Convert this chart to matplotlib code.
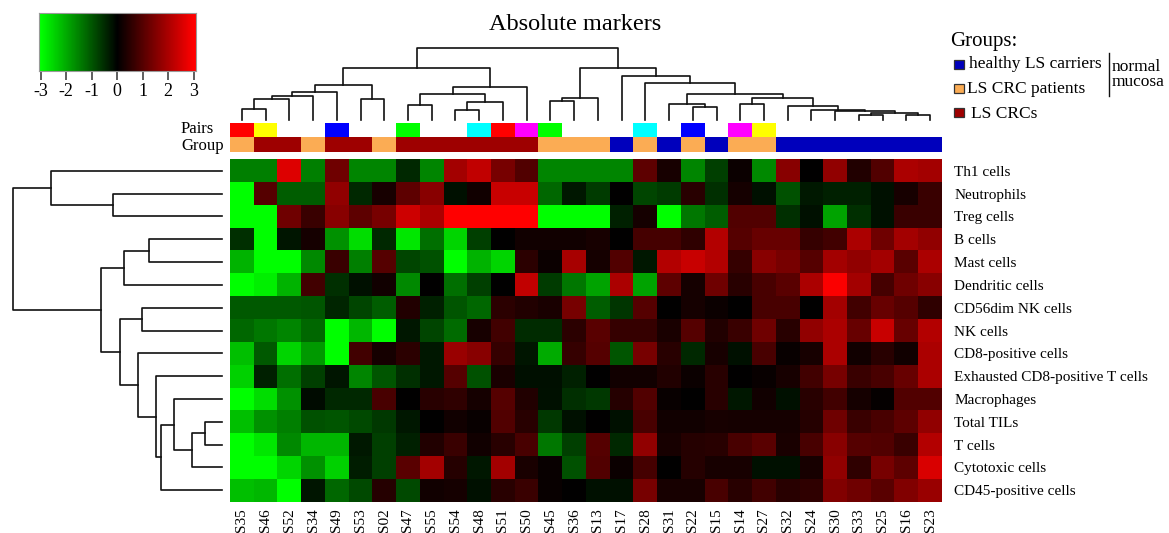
import numpy as np
import matplotlib
matplotlib.use("Agg")
import matplotlib.pyplot as plt
from matplotlib.colors import LinearSegmentedColormap, to_rgb
from matplotlib.patches import Rectangle

plt.rcParams['font.family'] = ['Liberation Serif', 'DejaVu Serif']

# ---- samples (column order) and annotations ----
samples = ["S35", "S46", "S52", "S34", "S49", "S53", "S02", "S47", "S55", "S54",
           "S48", "S51", "S50", "S45", "S36", "S13", "S17", "S28", "S31", "S22",
           "S15", "S14", "S27", "S32", "S24", "S30", "S33", "S25", "S16", "S23"]

group = ["pat", "crc", "crc", "pat", "crc", "crc", "pat", "crc", "crc", "crc",
         "crc", "crc", "crc", "pat", "pat", "pat", "hc", "pat", "hc", "pat",
         "hc", "pat", "pat", "hc", "hc", "hc", "hc", "hc", "hc", "hc"]

pairs = ["red", "yellow", None, None, "blue", None, None, "lime", None, None,
         "cyan", "red", "magenta", "lime", None, None, None, "cyan", None, "blue",
         None, "magenta", "yellow", None, None, None, None, None, None, None]

group_labels = {"hc": "healthy LS carriers", "pat": "LS CRC patients", "crc": "LS CRCs"}
group_colors = {"hc": "#0000BC", "pat": "#FBAC54", "crc": "#9E0000"}

# ---- cell types (row order) and scaled scores ----
cell_types = ["Th1 cells", "Neutrophils", "Treg cells", "B cells", "Mast cells",
              "Dendritic cells", "CD56dim NK cells", "NK cells", "CD8-positive cells",
              "Exhausted CD8-positive T cells", "Macrophages", "Total TILs",
              "T cells", "Cytotoxic cells", "CD45-positive cells"]

th1 = [-1.5, -1.5, 2.6, -1.5, 1.3, -1.55, -1.55, -0.47, -1.55, 1.9,
       2.25, 1.4, 0.94, -1.55, -1.55, -1.55, -1.55, 1.1, 0.28, -1.55,
       -0.75, 0.12, -1.6, 1.6, 0.0, 1.7, 0.38, 0.94, 2.0, 1.9]
neutrophils = [-3.0, 1.0, -1.1, -1.1, 1.7, -0.47, 0.28, 1.1, 1.6, -0.19,
               0.19, 2.35, 2.35, -1.2, -0.28, -0.68, 0.0, -0.8, -0.68, 0.47,
               -0.56, 0.25, -0.19, -0.94, -0.3, -0.38, -0.38, -0.19, 0.28, 0.66]
treg = [-3.0, -3.0, 1.3, 0.66, 1.6, 1.1, 1.4, 2.4, 2.0, 3.0,
        3.0, 3.0, 3.0, -3.0, -3.0, -3.0, -0.38, 0.25, -3.0, -1.4,
        -1.1, 0.94, 0.94, -0.56, -0.19, -1.9, -0.56, -0.2, 0.66, 0.66]
b_cells = [-0.56, -3.0, -0.25, 0.25, -1.7, -2.6, -0.47, -2.7, -1.3, -2.5,
           -0.75, 0.0, 0.2, 0.2, 0.2, 0.28, 0.0, 0.8, 0.8, 0.56,
           2.1, 1.0, 1.2, 1.2, 0.62, 0.75, 2.0, 1.3, 1.9, 1.7]
mast = [-2.1, -3.0, -3.0, -1.6, 0.66, -1.5, 1.0, -0.8, -0.94, -3.0,
        -2.1, -2.5, 0.5, 0.14, 1.95, 0.25, 0.94, -0.28, 2.1, 2.35,
        2.1, 0.62, 1.6, 1.4, 1.0, 1.9, 1.7, 1.9, 1.05, 2.0]
dendritic = [-3.0, -2.8, -2.1, 0.75, -0.56, -0.19, 0.19, -1.6, 0.0, -1.3,
             -0.75, 0.0, 2.25, -0.68, -1.4, -1.9, 2.0, -1.9, 1.1, 0.25,
             1.3, 0.47, 0.85, 1.05, 2.0, 2.95, 1.9, 0.8, 1.3, 1.6]
cd56dim_nk = [-1.05, -1.05, -1.05, -1.0, -0.44, -0.8, -1.1, 0.38, -0.38, -1.0,
              -1.2, 0.5, 0.38, 0.3, 1.4, -1.1, -0.62, 1.0, 0.0, 0.25,
              0.12, 0.0, 0.85, 0.85, 0.0, 1.9, 0.75, 1.2, 1.0, 0.56]
nk = [-1.2, -1.4, -1.55, -1.2, -3.0, -2.15, -3.0, -0.28, -0.8, -1.25,
      0.28, 0.75, -0.5, -0.5, 0.5, 1.05, 0.62, 0.62, 0.3, 1.0,
      0.38, 0.66, 1.3, 0.47, 1.7, 2.0, 1.2, 2.35, 1.2, 2.1]
cd8 = [-2.25, -1.05, -2.5, -1.8, -3.0, 0.75, 0.25, 0.5, -0.28, 1.8,
       1.6, 0.62, -0.25, -2.0, 0.62, 1.0, -1.0, 1.4, 0.47, -0.47,
       0.28, -0.2, 0.85, 0.1, 0.28, 2.0, 0.2, 0.47, 0.19, 2.0]
exhausted_cd8 = [-2.45, -0.38, -1.3, -0.75, -0.25, -1.55, -1.0, -0.56, -0.28, 1.0,
                 -0.94, 0.3, -0.18, -0.18, -0.38, 0.0, 0.19, 0.19, 0.38, 0.12,
                 0.47, 0.0, 0.1, 0.28, 0.75, 1.4, 0.66, 0.85, 1.2, 2.0]
macrophages = [-3.0, -2.6, -1.7, -0.12, -0.47, -0.47, 0.85, 0.0, 0.47, 0.56,
               0.25, 1.0, 0.38, -0.19, -0.56, -0.66, 0.44, 0.94, 0.1, 0.0,
               0.47, -0.28, 0.19, -0.19, 0.47, 0.75, 0.25, 0.07, 0.94, 0.94]
total_tils = [-2.25, -1.7, -1.5, -0.94, -1.0, -0.85, -0.66, -0.28, 0.0, 0.19,
              0.1, 0.94, 0.47, -0.66, -0.19, 0.0, -0.2, 0.85, 0.2, 0.2,
              0.28, 0.25, 0.25, 0.25, 0.44, 1.3, 0.66, 0.85, 1.1, 1.7]
t_cells = [-3.0, -2.7, -1.6, -2.15, -2.15, -0.3, -0.75, -0.38, 0.38, 0.66,
           0.2, 0.47, 0.85, -1.4, -0.75, 1.0, -0.47, 1.7, 0.28, 0.44,
           0.47, 0.85, 1.05, 0.3, 0.85, 1.6, 1.0, 0.94, 0.66, 2.1]
cytotoxic = [-3.0, -3.0, -2.5, -1.7, -2.45, -0.33, -0.75, 1.05, 1.9, 0.44,
             -0.28, 1.9, 0.3, 0.1, -0.94, 0.94, 0.12, 0.8, 0.0, 0.44,
             0.28, 0.28, -0.19, -0.19, 0.28, 1.7, 0.56, 1.4, 1.1, 2.55]
cd45 = [-2.25, -2.15, -3.0, -0.25, -1.2, -0.85, 0.44, -0.85, 0.19, 0.25,
        -0.2, 0.47, 0.66, 0.1, 0.0, -0.19, -0.19, 1.4, 0.28, 0.28,
        0.85, 0.47, 0.75, 0.47, 0.56, 1.5, 1.3, 1.05, 1.5, 1.8]

# ---- clustering trees: (left, right, merge height); leaves are column/row indices ----
c_a = ((((0, 1, 11), 2, 21), 3, 24), 4, 28)
c_b = (5, 6, 21)
c_ab = (c_a, c_b, 35)
c_c = ((7, 8, 15), ((9, 10, 10), 11, 18), 26)
c_d = (c_c, 12, 33)
c_left = (c_ab, c_d, 52)
c_e = ((13, 14, 19), 15, 22)
c_f = (18, (19, 20, 13), 16)
c_g = (21, 22, 16)
c_h = (23, (24, (25, ((26, 27, 5), (28, 29, 5), 7.3), 9), 9.7), 14)
c_fgh = (c_f, (c_g, c_h, 22), 26)
c_right = (c_e, (16, (17, c_fgh, 37), 44), 52)
col_tree = (c_left, c_right, 72)

r_top = (0, (1, 2, 109), 171)
r_mid = ((3, 4, 73), 5, 98)
r_low = ((6, 7, 80),
         (8, (9, ((10, ((11, 12, 17), 13, 30), 48), 14, 61), 66), 84), 102)
row_tree = (r_top, (r_mid, r_low, 121), 209)

scores = np.array([th1, neutrophils, treg, b_cells, mast, dendritic, cd56dim_nk, nk,
                   cd8, exhausted_cd8, macrophages, total_tils, t_cells, cytotoxic, cd45])

W, H = 1169, 533
fig = plt.figure(figsize=(W / 100, H / 100), dpi=100)


def box(x0, y0, x1, y1):
    return [x0 / W, 1 - y1 / H, (x1 - x0) / W, (y1 - y0) / H]


cmap = LinearSegmentedColormap.from_list("gkr", ["#00FF00", "#000000", "#FF0000"])

# heatmap
ax = fig.add_axes(box(230, 159.3, 942, 501.7))
ax.imshow(scores, cmap=cmap, vmin=-3, vmax=3, aspect="auto", interpolation="nearest")
for s in ax.spines.values():
    s.set_visible(False)
ax.set_xticks(range(len(samples)))
ax.set_xticklabels(samples, rotation=90, fontsize=11)
ax.tick_params(axis="x", length=0, pad=5)
ax.yaxis.tick_right()
ax.set_yticks(range(len(cell_types)))
ax.set_yticklabels(cell_types, fontsize=11)
ax.tick_params(axis="y", length=0, pad=9)

# annotation bars
ann = np.ones((2, len(samples), 3))
for i, (p, g) in enumerate(zip(pairs, group)):
    if p is not None:
        ann[0, i] = to_rgb(p)
    ann[1, i] = to_rgb(group_colors[g])
ax_a = fig.add_axes(box(230, 122.7, 942, 151.7))
ax_a.imshow(ann, aspect="auto", interpolation="nearest")
ax_a.axis("off")


def draw_tree(axis, node, vertical):
    if isinstance(node, int):
        return float(node), 0.0
    left, right, h = node
    p1, h1 = draw_tree(axis, left, vertical)
    p2, h2 = draw_tree(axis, right, vertical)
    pos = [p1, p1, p2, p2]
    hts = [h1, h, h, h2]
    if vertical:
        axis.plot(pos, hts, color="#111111", lw=1.2, clip_on=False)
    else:
        axis.plot(hts, pos, color="#111111", lw=1.2, clip_on=False)
    return (p1 + p2) / 2, h


ax_cd = fig.add_axes(box(230, 48, 942, 120))
draw_tree(ax_cd, col_tree, True)
ax_cd.set_xlim(-0.5, len(samples) - 0.5)
ax_cd.set_ylim(0, 72)
ax_cd.axis("off")

ax_rd = fig.add_axes(box(13, 159.3, 222, 501.7))
draw_tree(ax_rd, row_tree, False)
ax_rd.set_xlim(209, 0)
ax_rd.set_ylim(len(cell_types) - 0.5, -0.5)
ax_rd.axis("off")

# colour key
ax_k = fig.add_axes(box(39, 13.3, 195.7, 71))
grad = np.linspace(-3.07, 3.08, 300)[None, :]
ax_k.imshow(grad, cmap=cmap, vmin=-3, vmax=3, aspect="auto",
            extent=[-3.07, 3.08, 0, 1], interpolation="bilinear")
ax_k.set_xlim(-3.07, 3.08)
ax_k.set_yticks([])
ax_k.set_xticks([-3, -2, -1, 0, 1, 2, 3])
ax_k.set_xticklabels(["-3", "-2", "-1", "0", "1", "2", "3"], fontsize=13)
ax_k.tick_params(axis="x", direction="out", length=6.5, width=1.1, color="#333333", pad=2)
for s in ax_k.spines.values():
    s.set_color("#9a9a9a")
    s.set_linewidth(0.8)

# title
fig.text(575 / W, 1 - 30 / H, "Absolute markers", ha="center", va="baseline", fontsize=17.5)

# overlay in pixel coordinates for labels and legend
ov = fig.add_axes([0, 0, 1, 1])
ov.set_xlim(0, W)
ov.set_ylim(H, 0)
ov.axis("off")

ov.text(181, 132.7, "Pairs", fontsize=12, va="baseline", ha="left")
ov.text(181, 150.3, "Group", fontsize=12, va="baseline", ha="left")

ov.text(950, 46, "Groups:", fontsize=15, va="baseline", ha="left")
legend_rows = [("hc", 60, 68.3, 969.3), ("pat", 84.3, 92.7, 967.3), ("crc", 107.5, 117.7, 970.7)]
for key, ytop, ybase, xt in legend_rows:
    ov.add_patch(Rectangle((954, ytop), 10, 9, facecolor=group_colors[key],
                           edgecolor="#333333", lw=0.9))
    ov.text(xt, ybase, group_labels[key], fontsize=12.5, va="baseline", ha="left")

ov.plot([1108.7, 1108.7], [53, 96], color="#111111", lw=1.0)
ov.text(1111.7, 71, "normal", fontsize=12.5, va="baseline", ha="left")
ov.text(1111.7, 85.5, "mucosa", fontsize=12.5, va="baseline", ha="left")

fig.savefig("out.png", dpi=100)
